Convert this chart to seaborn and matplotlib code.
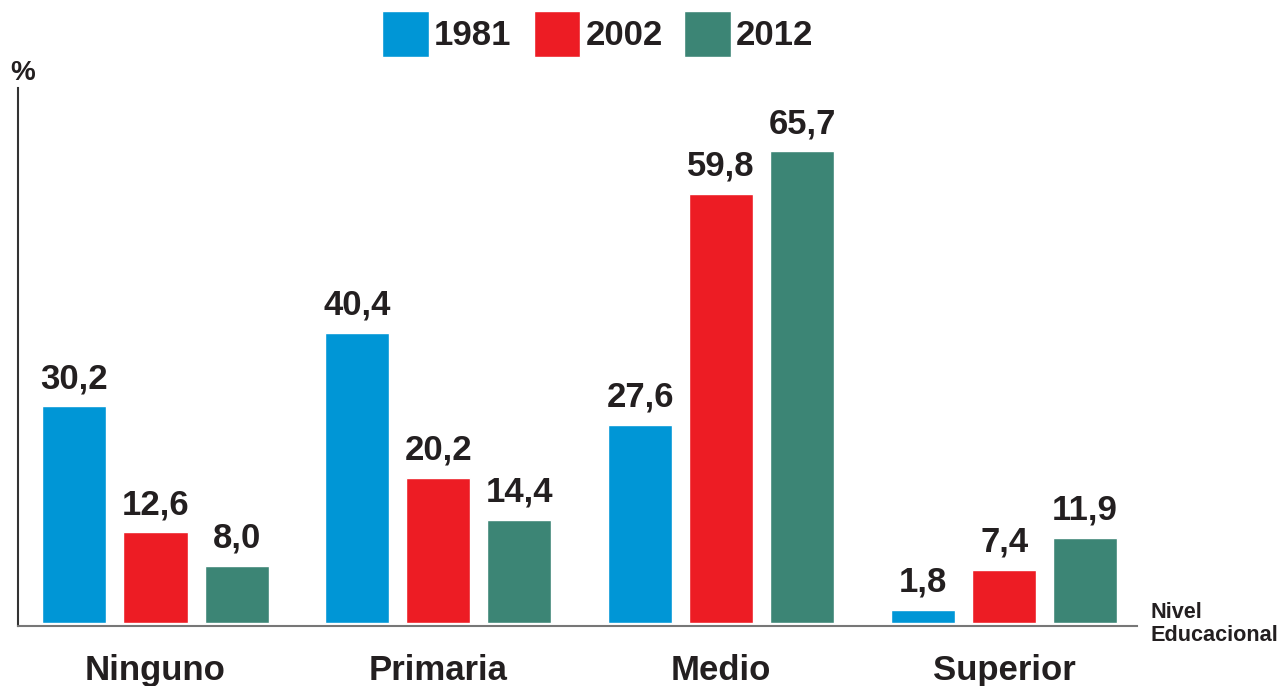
import matplotlib
matplotlib.use("Agg")
import matplotlib.pyplot as plt
import seaborn as sns
import pandas as pd

categories = ["Ninguno", "Primaria", "Medio", "Superior"]
years = ["1981", "2002", "2012"]
values_1981 = [30.2, 40.4, 27.6, 1.8]
values_2002 = [12.6, 20.2, 59.8, 7.4]
values_2012 = [8.0, 14.4, 65.7, 11.9]
colors = ["#0096D6", "#ED1C24", "#3C8575"]

sns.set_theme(style="white")
plt.rcParams['font.family'] = ['Liberation Sans', 'DejaVu Sans']
plt.rcParams['font.weight'] = 'bold'
TXT = "#231F20"

rows = []
for y, vals in zip(years, [values_1981, values_2002, values_2012]):
    for c, v in zip(categories, vals):
        rows.append({"cat": c, "year": y, "val": v})
df = pd.DataFrame(rows)

fig = plt.figure(figsize=(12.83, 6.86), dpi=100)
ax = fig.add_axes([0.01403, 0.0875, 0.8722, 0.7843])
sns.barplot(data=df, x="cat", y="val", hue="year", order=categories, hue_order=years,
            palette=colors, saturation=1, width=0.86, gap=0.21, ax=ax, legend=True)

for cont in ax.containers:
    for bar in cont:
        h = bar.get_height()
        ax.annotate(f"{h:.1f}".replace(".", ","), (bar.get_x() + bar.get_width() / 2, h),
                    xytext=(0, 13), textcoords="offset points", ha="center", va="baseline",
                    fontsize=25, fontweight="bold", color=TXT)

ax.set_xlim(-0.486, 3.47)
ax.set_ylim(-0.42, 74.5)
ax.set_xlabel("")
ax.set_ylabel("")
ax.set_yticks([])
ax.tick_params(axis="x", length=0, pad=20, labelsize=25, labelcolor=TXT)
for lab in ax.get_xticklabels():
    lab.set_fontweight("bold")
for s in ["top", "right"]:
    ax.spines[s].set_visible(False)
ax.spines["left"].set_color("#333333")
ax.spines["left"].set_linewidth(1.5)
ax.spines["bottom"].set_color("#777777")
ax.spines["bottom"].set_linewidth(1.5)

handles, labels = ax.get_legend_handles_labels()
ax.get_legend().remove()
leg = fig.legend(handles, labels, loc="center", bbox_to_anchor=(598 / 1283, 1 - 34 / 686),
                 ncol=3, frameon=False, fontsize=25, handlelength=1.35, handleheight=1.67,
                 handletextpad=0.14, columnspacing=0.63, borderpad=0)
for t in leg.get_texts():
    t.set_fontweight("bold")
    t.set_color(TXT)

fig.text(10 / 1283, 1 - 80 / 686, "%", fontsize=20, fontweight="bold", color=TXT, ha="left", va="baseline")
fig.text(1150 / 1283, 1 - 641 / 686, "Nivel\nEducacional", fontsize=15.6, fontweight="bold",
         color=TXT, ha="left", va="baseline", linespacing=1.15)

fig.savefig("out.png", dpi=100)
